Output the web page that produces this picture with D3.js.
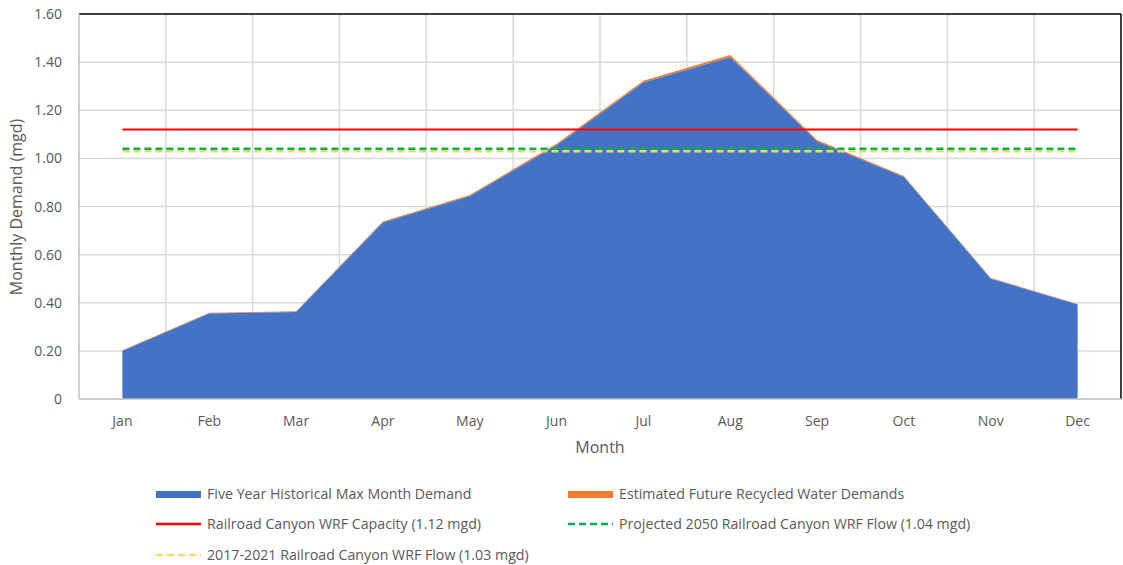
<!DOCTYPE html>
<html><head><meta charset="utf-8">
<script src="https://cdn.jsdelivr.net/npm/d3@7"></script>
<style>body{margin:0;background:#fff}svg{display:block;font-family:"Open Sans","Liberation Sans",sans-serif}</style>
</head><body><svg id="c" width="1123" height="565"></svg>
<script>
const months = ["Jan","Feb","Mar","Apr","May","Jun","Jul","Aug","Sep","Oct","Nov","Dec"];
const historical = [0.20,0.355,0.362,0.733,0.843,1.055,1.315,1.42,1.07,0.923,0.50,0.393];
const futureExtra = [0.003,0.003,0.003,0.005,0.005,0.006,0.008,0.010,0.006,0.004,0.003,0.002];
const capacity = 1.12;
const projected2050 = 1.04;
const flow2017 = 1.03;
const yTicks = [0,0.2,0.4,0.6,0.8,1.0,1.2,1.4,1.6];
const seriesNames = ["Five Year Historical Max Month Demand","Estimated Future Recycled Water Demands",
  "Railroad Canyon WRF Capacity (1.12 mgd)","Projected 2050 Railroad Canyon WRF Flow (1.04 mgd)",
  "2017-2021 Railroad Canyon WRF Flow (1.03 mgd)"];

const svg = d3.select("#c");
const L=79, R=1121, T=14, B=399;
const x = d3.scaleBand().domain(months).range([L,R]);
const xc = m => x(m)+x.bandwidth()/2;
const y = d3.scaleLinear().domain([0,1.6]).range([B,T]);

// gridlines
svg.append("g").selectAll("line").data(yTicks.slice(1,-1)).join("line")
  .attr("x1",L).attr("x2",R).attr("y1",d=>y(d)).attr("y2",d=>y(d))
  .attr("stroke","#d9d9d9").attr("stroke-width",1.5);
svg.append("g").selectAll("line").data(months.slice(1)).join("line")
  .attr("x1",d=>x(d)).attr("x2",d=>x(d)).attr("y1",T).attr("y2",B)
  .attr("stroke","#d9d9d9").attr("stroke-width",1.5);

// stacked areas
const stackData = months.map((m,i)=>({m, h:historical[i], f:futureExtra[i]}));
const stack = d3.stack().keys(["h","f"])(stackData);
const area = d3.area().x(d=>xc(d.data.m)).y0(d=>y(d[0])).y1(d=>y(d[1]));
svg.append("path").datum(stack[1]).attr("d",area).attr("fill","#ed7d31");
svg.append("path").datum(stack[0]).attr("d",area).attr("fill","#4472c4");

// horizontal reference lines
function hline(v,color,dash,w){
  svg.append("line").attr("x1",xc(months[0])).attr("x2",xc(months[11]))
    .attr("y1",y(v)).attr("y2",y(v)).attr("stroke",color).attr("stroke-width",w)
    .attr("stroke-dasharray",dash);
}
hline(flow2017,"#ffd966","7,4",2.5);
hline(projected2050,"#00b050","7,4",2.5);
hline(capacity,"#ff0000",null,2.2);

// frame
svg.append("line").attr("x1",L).attr("x2",R).attr("y1",T).attr("y2",T).attr("stroke","#000").attr("stroke-width",1.5);
svg.append("line").attr("x1",R).attr("x2",R).attr("y1",T).attr("y2",B).attr("stroke","#000").attr("stroke-width",1.5);
svg.append("line").attr("x1",L).attr("x2",R).attr("y1",B).attr("y2",B).attr("stroke","#bfbfbf").attr("stroke-width",1.5);
svg.append("line").attr("x1",L).attr("x2",L).attr("y1",T).attr("y2",B).attr("stroke","#bfbfbf").attr("stroke-width",1.5);

// y axis labels
svg.append("g").selectAll("text").data(yTicks).join("text")
  .attr("x",62).attr("y",d=>y(d)+5).attr("text-anchor","end")
  .attr("font-size",14).attr("fill","#595959")
  .text(d=>d===0?"0":d3.format(".2f")(d));
// x axis labels
svg.append("g").selectAll("text").data(months).join("text")
  .attr("x",d=>xc(d)).attr("y",426).attr("text-anchor","middle")
  .attr("font-size",14).attr("fill","#595959").text(d=>d);

svg.append("text").attr("x",600).attr("y",453).attr("text-anchor","middle")
  .attr("font-size",16).attr("fill","#595959").text("Month");
svg.append("text").attr("transform","translate(22,207) rotate(-90)").attr("text-anchor","middle")
  .attr("font-size",16).attr("fill","#595959").text("Monthly Demand (mgd)");

// legend
const leg = [
  {n:seriesNames[0],type:"rect",c:"#4472c4",x:156,y:494},
  {n:seriesNames[1],type:"rect",c:"#ed7d31",x:568,y:494},
  {n:seriesNames[2],type:"line",c:"#ff0000",x:156,y:524,dash:null},
  {n:seriesNames[3],type:"line",c:"#00b050",x:568,y:524,dash:"7,4"},
  {n:seriesNames[4],type:"line",c:"#ffd966",x:156,y:555,dash:"7,4"}
];
const lg = svg.append("g").selectAll("g").data(leg).join("g");
lg.each(function(d){
  const g=d3.select(this);
  if(d.type==="rect") g.append("rect").attr("x",d.x).attr("y",d.y-3).attr("width",45).attr("height",7).attr("fill",d.c);
  else g.append("line").attr("x1",d.x).attr("x2",d.x+45).attr("y1",d.y).attr("y2",d.y).attr("stroke",d.c).attr("stroke-width",2.5).attr("stroke-dasharray",d.dash);
  g.append("text").attr("x",d.x+51).attr("y",d.y+5).attr("font-size",14.2).attr("fill","#595959").text(d.n);
});
</script></body></html>
